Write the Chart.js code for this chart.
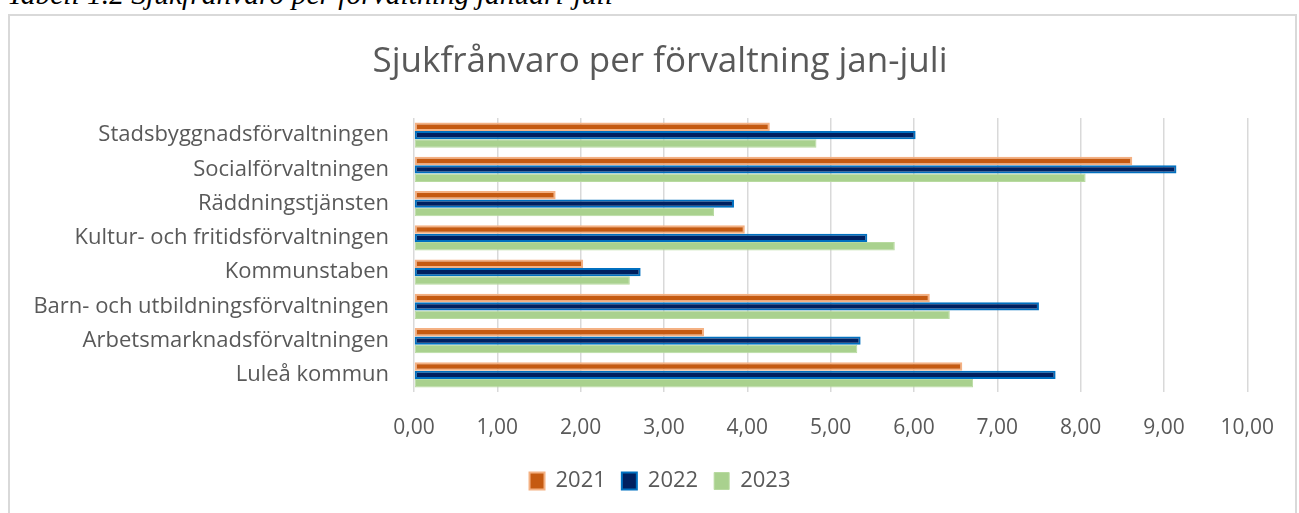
<!DOCTYPE html>
<html><head><meta charset="utf-8">
<script src="https://cdn.jsdelivr.net/npm/chart.js@4/dist/chart.umd.min.js"></script>
<style>
html,body{margin:0;padding:0;background:#fff;width:1299px;height:513px;overflow:hidden;}
#cap{position:absolute;left:7px;top:-20px;font-family:"Liberation Serif",serif;font-style:italic;font-size:29.5px;line-height:29px;color:#000;white-space:nowrap;}
#box{position:absolute;left:8px;top:14px;width:1289px;height:520px;border:2px solid #D9D9D9;box-sizing:border-box;}
#wrap{position:absolute;left:10px;top:16px;width:1287px;height:497px;}
</style></head>
<body>
<div id="cap">Tabell 1.2 Sjukfrånvaro per förvaltning januari-juli</div>
<div id="box"></div>
<div id="wrap"><canvas id="c" width="1287" height="497"></canvas></div>
<script>
const categories = ["Stadsbyggnadsförvaltningen","Socialförvaltningen","Räddningstjänsten","Kultur- och fritidsförvaltningen","Kommunstaben","Barn- och utbildningsförvaltningen","Arbetsmarknadsförvaltningen","Luleå kommun"];
const series2021 = [4.27, 8.62, 1.70, 3.97, 2.03, 6.19, 3.48, 6.58];
const series2022 = [6.02, 9.15, 3.84, 5.44, 2.72, 7.50, 5.36, 7.70];
const series2023 = [4.83, 8.06, 3.60, 5.77, 2.59, 6.43, 5.32, 6.71];
const seriesNames = ["2021","2022","2023"];
const xTicks = [0,1,2,3,4,5,6,7,8,9,10];

const txt = '#595959';
const font = '"Open Sans", sans-serif';
new Chart(document.getElementById('c'), {
  type: 'bar',
  data: {
    labels: categories,
    datasets: [
      {label: seriesNames[0], data: series2021, backgroundColor:'#C55A11', borderColor:'#F4B183', borderWidth:2, borderSkipped:false},
      {label: seriesNames[1], data: series2022, backgroundColor:'#002060', borderColor:'#0070C0', borderWidth:2, borderSkipped:false},
      {label: seriesNames[2], data: series2023, backgroundColor:'#A9D18E', borderColor:'#B8DAA0', borderWidth:1, borderSkipped:false}
    ]
  },
  options: {
    indexAxis: 'y',
    responsive: false,
    animation: false,
    categoryPercentage: 0.74,
    barPercentage: 1.0,
    layout: {padding: {left: 59, right: 46, top: 0, bottom: 11}},
    plugins: {
      title: {display: true, text: 'Sjukfrånvaro per förvaltning jan-juli', color: txt,
        font: {family: font, size: 35, weight: 'normal', lineHeight: 1.2}, padding: {top: 25, bottom: 35}},
      legend: {position: 'bottom', labels: {color: txt, font: {family: font, size: 22}, boxWidth: 15, boxHeight: 17, padding: 16}},
      tooltip: {enabled: false}
    },
    scales: {
      x: {
        min: 0, max: 10,
        afterBuildTicks: s => { s.ticks = xTicks.map(v => ({value: v})); },
        ticks: {color: txt, font: {family: font, size: 21}, padding: 23,
          callback: v => v.toFixed(2).replace('.', ',')},
        grid: {color: '#D9D9D9', lineWidth: 1.5, drawTicks: false},
        border: {display: false},
        afterFit: s => { s.height = 62; }
      },
      y: {
        ticks: {color: txt, font: {family: font, size: 22}, padding: 17},
        grid: {display: false},
        border: {display: false},
        afterFit: s => { s.width = 345; s._computeLabelArea = () => undefined; }
      }
    }
  }
});
</script>
</body></html>
